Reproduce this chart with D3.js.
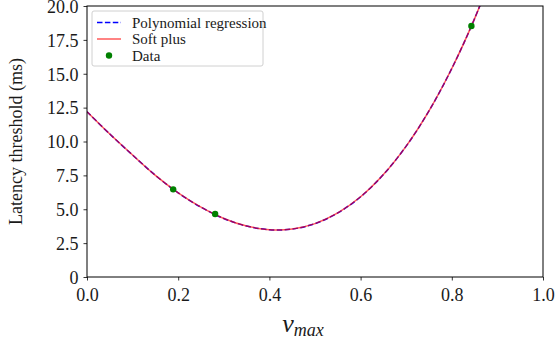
<!DOCTYPE html>
<html lang="en">
<head>
    <meta charset="UTF-8">
    <title>Latency threshold</title>
    <script src="https://d3js.org/d3.v7.min.js"></script>
    <style>
        body { margin: 0; background: #fff; }
    </style>
</head>
<body>
<svg width="555" height="342"></svg>
<script>
    // values
    const vmax = [0, 0.05, 0.1, 0.15, 0.2, 0.25, 0.3, 0.35, 0.4, 0.45, 0.5, 0.55, 0.6, 0.65, 0.7, 0.75, 0.8, 0.85, 0.9];
    const polyLatency = [12.2, 10.55, 9.0, 7.5, 6.21, 5.15, 4.32, 3.76, 3.49, 3.54, 3.94, 4.73, 5.92, 7.56, 9.66, 12.26, 15.39, 19.07, 23.34];
    const softLatency = [12.2, 10.55, 9.0, 7.5, 6.21, 5.15, 4.32, 3.76, 3.49, 3.54, 3.94, 4.73, 5.92, 7.56, 9.66, 12.26, 15.39, 19.07, 23.34];
    const dataX = [0.189, 0.281, 0.843];
    const dataY = [6.47, 4.65, 18.52];
    const xTicks = [0, 0.2, 0.4, 0.6, 0.8, 1.0];
    const yTicks = [0, 2.5, 5, 7.5, 10, 12.5, 15, 17.5, 20];
    const yTickLabels = ["0", "2.5", "5.0", "7.5", "10.0", "12.5", "15.0", "17.5", "20.0"];

    const serif = '"Liberation Serif", "Times New Roman", serif';
    const width = 555;
    const height = 342;
    const margin = {top: 6, right: 12, bottom: 65, left: 87};
    const innerWidth = width - margin.left - margin.right;
    const innerHeight = height - margin.top - margin.bottom;

    const svg = d3.select('svg');
    const g = svg.append('g')
        .attr('transform', `translate(${margin.left},${margin.top})`);

    const x = d3.scaleLinear().domain([0, 1]).range([0, innerWidth]);
    const y = d3.scaleLinear().domain([0, 20]).range([innerHeight, 0]);

    g.append('clipPath').attr('id', 'clip')
        .append('rect').attr('width', innerWidth).attr('height', innerHeight);

    // axes
    const xAxis = g.append('g')
        .attr('transform', `translate(0,${innerHeight})`)
        .call(d3.axisBottom(x).tickValues(xTicks).tickFormat(d3.format('.1f')).tickSize(3.5).tickPadding(4));
    const yAxis = g.append('g')
        .call(d3.axisLeft(y).tickValues(yTicks).tickFormat((d, i) => yTickLabels[i]).tickSize(3.5).tickPadding(5));
    [xAxis, yAxis].forEach(a => {
        a.attr('font-family', null).attr('font-size', null);
        a.select('.domain').remove();
        a.selectAll('line').attr('stroke', '#000').attr('stroke-width', 0.8);
        a.selectAll('text')
            .style('font-family', serif)
            .style('font-size', '18px')
            .attr('fill', '#1a1a1a');
    });
    xAxis.selectAll('text').attr('dy', '0.9em');
    yAxis.selectAll('text').attr('dy', '0.35em');

    // curves
    const line = d3.line()
        .x((d, i) => x(vmax[i]))
        .y(d => y(d))
        .curve(d3.curveCatmullRom);

    const curves = g.append('g').attr('clip-path', 'url(#clip)');
    curves.append('path')
        .datum(polyLatency)
        .attr('d', line)
        .attr('fill', 'none')
        .attr('stroke', '#0000ff')
        .attr('stroke-width', 1.5)
        .attr('stroke-dasharray', '5.5,2.4');
    curves.append('path')
        .datum(softLatency)
        .attr('d', line)
        .attr('fill', 'none')
        .attr('stroke', '#ff0000')
        .attr('stroke-opacity', 0.65)
        .attr('stroke-width', 1.5);

    curves.selectAll('circle')
        .data(dataX)
        .enter().append('circle')
        .attr('cx', d => x(d))
        .attr('cy', (d, i) => y(dataY[i]))
        .attr('r', 3.2)
        .attr('fill', '#008000');

    // frame
    g.append('rect')
        .attr('width', innerWidth)
        .attr('height', innerHeight)
        .attr('fill', 'none')
        .attr('stroke', '#000')
        .attr('stroke-width', 1);

    // legend
    const legend = g.append('g').attr('transform', 'translate(5,5)');
    legend.append('rect')
        .attr('width', 171).attr('height', 55)
        .attr('rx', 2)
        .attr('fill', '#fff').attr('fill-opacity', 0.8)
        .attr('stroke', '#d0d0d0');
    const entries = [
        {label: 'Polynomial regression', kind: 'dash'},
        {label: 'Soft plus', kind: 'line'},
        {label: 'Data', kind: 'dot'}
    ];
    entries.forEach((e, i) => {
        const ly = 11.5 + i * 16.5;
        if (e.kind === 'dash') {
            legend.append('line').attr('x1', 5).attr('x2', 29).attr('y1', ly).attr('y2', ly)
                .attr('stroke', '#0000ff').attr('stroke-width', 1.5).attr('stroke-dasharray', '5.5,2.4');
        } else if (e.kind === 'line') {
            legend.append('line').attr('x1', 5).attr('x2', 29).attr('y1', ly).attr('y2', ly)
                .attr('stroke', '#ff0000').attr('stroke-opacity', 0.65).attr('stroke-width', 1.5);
        } else {
            legend.append('circle').attr('cx', 17).attr('cy', ly).attr('r', 3.2).attr('fill', '#008000');
        }
        legend.append('text')
            .attr('x', 40).attr('y', ly)
            .attr('dy', '0.35em')
            .style('font-family', serif)
            .style('font-size', '15px')
            .attr('fill', '#1a1a1a')
            .text(e.label);
    });

    // axis labels
    svg.append('text')
        .attr('transform', `translate(16,${margin.top + innerHeight / 2}) rotate(-90)`)
        .attr('text-anchor', 'middle')
        .attr('dy', '0.35em')
        .style('font-family', serif)
        .style('font-size', '18px')
        .attr('fill', '#1a1a1a')
        .text('Latency threshold (ms)');

    const xl = svg.append('text')
        .attr('x', 303).attr('y', 332)
        .attr('text-anchor', 'middle')
        .style('font-family', serif)
        .style('font-style', 'italic')
        .attr('fill', '#1a1a1a');
    xl.append('tspan').style('font-size', '26px').text('v');
    xl.append('tspan').style('font-size', '18px').attr('dy', 4).text('max');
</script>
</body>
</html>
